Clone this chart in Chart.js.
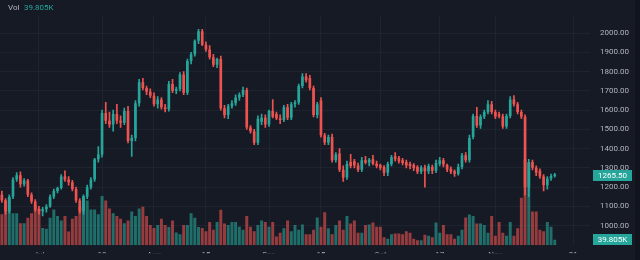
<!DOCTYPE html>
<html><head><meta charset="utf-8">
<script src="https://cdn.jsdelivr.net/npm/chart.js@4.4.1/dist/chart.umd.min.js"></script>
<style>html,body{margin:0;padding:0;background:#161a25;overflow:hidden}#wrap{position:relative;width:640px;height:260px}canvas{display:block}</style>
</head><body><div id="wrap"><canvas id="c" width="640" height="260"></canvas></div>
<script>
const opens = [1160,1130,1075,1150,1240,1262,1215,1235,1160,1125,1085,1075,1085,1100,1150,1180,1195,1255,1240,1225,1190,1130,1075,1150,1200,1240,1345,1370,1585,1545,1525,1580,1545,1535,1596,1440,1455,1635,1745,1715,1695,1675,1630,1655,1615,1605,1735,1700,1710,1785,1690,1855,1890,1960,2010,1940,1915,1875,1835,1865,1610,1575,1620,1635,1665,1680,1705,1510,1490,1430,1540,1560,1525,1595,1580,1558,1548,1615,1560,1630,1640,1725,1775,1765,1715,1575,1650,1470,1432,1460,1340,1375,1290,1250,1330,1335,1312,1290,1340,1328,1345,1322,1315,1305,1275,1320,1360,1350,1340,1330,1320,1315,1305,1280,1302,1282,1305,1285,1320,1340,1315,1295,1282,1270,1305,1365,1340,1460,1570,1520,1565,1590,1630,1590,1578,1568,1515,1570,1655,1630,1590,1565,1200,1330,1300,1285,1255,1210,1245,1258];
const highs = [1180,1140,1160,1250,1275,1280,1245,1240,1170,1135,1100,1095,1110,1160,1190,1200,1265,1285,1255,1235,1200,1140,1160,1210,1250,1350,1410,1600,1640,1590,1600,1630,1570,1610,1620,1470,1650,1760,1765,1725,1710,1690,1670,1665,1630,1750,1760,1720,1795,1800,1865,1900,1965,2020,2020,1955,1935,1890,1870,1880,1625,1630,1650,1680,1690,1720,1715,1520,1500,1570,1580,1575,1600,1655,1590,1575,1625,1630,1640,1650,1735,1790,1790,1780,1725,1640,1665,1480,1470,1475,1380,1400,1310,1335,1370,1345,1325,1355,1360,1350,1365,1335,1320,1312,1330,1365,1380,1360,1350,1340,1330,1322,1312,1310,1315,1320,1315,1340,1355,1350,1320,1305,1290,1320,1375,1380,1470,1580,1615,1575,1600,1650,1645,1600,1590,1580,1580,1670,1675,1640,1600,1575,1345,1340,1310,1295,1265,1255,1268,1272];
const lows = [1120,1060,1065,1140,1230,1200,1205,1150,1115,1075,1060,1050,1070,1095,1140,1170,1190,1230,1210,1180,1120,1065,1060,1140,1190,1230,1330,1355,1530,1510,1490,1530,1510,1525,1430,1360,1440,1620,1705,1680,1665,1620,1610,1605,1590,1595,1690,1685,1700,1680,1680,1840,1880,1945,1935,1905,1865,1825,1820,1600,1560,1555,1610,1625,1650,1670,1500,1480,1420,1420,1525,1510,1515,1560,1550,1530,1540,1550,1550,1615,1630,1715,1745,1705,1565,1560,1460,1420,1420,1330,1330,1280,1230,1240,1300,1300,1280,1280,1320,1310,1315,1300,1290,1260,1260,1310,1335,1325,1315,1300,1295,1285,1270,1270,1200,1270,1270,1275,1310,1305,1280,1270,1255,1262,1295,1330,1330,1450,1510,1505,1555,1580,1580,1555,1560,1505,1505,1560,1620,1580,1555,1160,1150,1290,1260,1245,1180,1190,1235,1252];
const closes = [1130,1075,1150,1240,1262,1215,1235,1160,1125,1085,1075,1085,1100,1150,1180,1195,1255,1240,1225,1190,1130,1075,1150,1200,1240,1345,1370,1585,1545,1525,1580,1545,1535,1596,1440,1455,1635,1745,1715,1695,1675,1630,1655,1615,1605,1735,1700,1710,1785,1690,1855,1890,1960,2010,1940,1915,1875,1835,1865,1610,1575,1620,1635,1665,1680,1705,1510,1490,1430,1555,1560,1525,1595,1565,1558,1548,1615,1560,1630,1640,1725,1775,1755,1715,1575,1630,1470,1432,1460,1340,1370,1290,1250,1320,1310,1312,1290,1340,1328,1342,1322,1310,1300,1275,1320,1355,1345,1335,1325,1312,1310,1298,1280,1302,1282,1310,1285,1325,1340,1318,1292,1280,1270,1305,1365,1340,1455,1570,1520,1565,1590,1630,1590,1565,1568,1515,1570,1655,1630,1590,1565,1200,1330,1300,1275,1255,1210,1245,1258,1265.5];
const volumes = [224,323,343,231,231,158,158,198,231,290,264,125,119,198,257,211,178,211,99,191,211,277,356,323,257,257,224,356,323,264,231,211,191,158,178,244,211,264,277,211,145,125,145,191,145,132,178,92,79,145,145,231,198,132,125,101,167,112,167,
255,156,145,167,167,134,112,211,134,101,145,178,167,134,167,62,90,123,178,101,145,112,150,79,79,112,200,134,237,123,79,145,178,112,211,156,178,90,90,145,150,163,134,134,57,46,79,84,84,79,101,90,46,35,35,75,68,57,163,
90,145,79,79,46,68,112,200,222,211,156,156,145,90,211,68,167,90,68,167,68,123,343,620,590,244,244,112,101,167,134,39.805];
const priceTicks = [1000,1100,1200,1300,1400,1500,1600,1700,1800,1900,2000];
const timeTickIndex = [10,27,41,55,72,86,102,118,133,154];
const timeTickLabels = ['Jul','18','Aug','15','Sep','15','Oct','17','Nov','21'];
const EMPTY_SLOTS = 9;

const UP = '#26a69a', DN = '#ef5350';
const N = closes.length;
const categories = Array.from({length: N + EMPTY_SLOTS}, (_, i) => String(i));
const isUp = i => closes[i] >= opens[i];
const candleColors = closes.map((c, i) => isUp(i) ? UP : DN);
const volColors = closes.map((c, i) => isUp(i) ? 'rgba(38,166,154,0.6)' : 'rgba(239,83,80,0.6)');
const GRID = '#1f2330';
const TXT = '#b2b5be';
const FONT = 'Roboto, "DejaVu Sans", sans-serif';

const overlay = {
  id: 'overlay',
  beforeDraw(chart) {
    const ctx = chart.ctx;
    ctx.save();
    ctx.fillStyle = '#161a25';
    ctx.fillRect(0, 0, chart.width, chart.height);
    ctx.fillStyle = '#11141d';
    ctx.fillRect(635, 0, 5, chart.height);
    ctx.restore();
  },
  afterDraw(chart) {
    const ctx = chart.ctx;
    const y = chart.scales.y, yv = chart.scales.yv;
    ctx.save();
    const last = closes[N - 1];
    const py = y.getPixelForValue(last);
    ctx.fillStyle = UP;
    ctx.fillRect(593, Math.round(py) - 5, 39, 11);
    ctx.fillStyle = '#ffffff';
    ctx.font = '8px ' + FONT;
    ctx.textAlign = 'center';
    ctx.textBaseline = 'middle';
    ctx.fillText(last.toFixed(2), 612.5, Math.round(py) + 0.5);
    const lv = volumes[N - 1];
    const vy = Math.min(yv.getPixelForValue(lv), chart.chartArea.bottom - 6);
    ctx.fillStyle = UP;
    ctx.fillRect(593, Math.round(vy) - 5, 39, 11);
    ctx.fillStyle = '#ffffff';
    ctx.fillText(lv.toFixed(3) + 'K', 612.5, Math.round(vy) + 0.5);
    ctx.textAlign = 'left';
    ctx.font = '8px ' + FONT;
    ctx.fillStyle = TXT;
    ctx.fillText('Vol', 8, 8);
    ctx.fillStyle = UP;
    ctx.fillText(lv.toFixed(3) + 'K', 24, 8);
    ctx.restore();
  }
};

new Chart(document.getElementById('c'), {
  data: {
    labels: categories,
    datasets: [
      { type: 'bar', label: 'Volume', data: volumes, yAxisID: 'yv', backgroundColor: volColors,
        barPercentage: 0.8, categoryPercentage: 1, grouped: false, order: 3 },
      { type: 'bar', label: 'Wick', data: highs.map((h, i) => [lows[i], h]), yAxisID: 'y',
        backgroundColor: candleColors, barThickness: 1, grouped: false, order: 2 },
      { type: 'bar', label: 'Body', data: opens.map((o, i) => [o, closes[i]]), yAxisID: 'y',
        backgroundColor: candleColors, barPercentage: 0.72, categoryPercentage: 1, grouped: false,
        minBarLength: 1, order: 1 }
    ]
  },
  options: {
    responsive: false, animation: false, devicePixelRatio: 1,
    layout: { padding: 0 },
    plugins: { legend: { display: false }, tooltip: { enabled: false } },
    scales: {
      x: {
        type: 'category', offset: true,
        afterBuildTicks: s => { s.ticks = timeTickIndex.map(v => ({ value: v })); },
        afterFit: s => { s.height = 8; },
        ticks: { autoSkip: false, maxRotation: 0, color: TXT, font: { size: 8, family: FONT }, padding: 5,
                 callback: (v, i) => timeTickLabels[i] },
        grid: { offset: false, color: GRID, drawTicks: false },
        border: { display: false }
      },
      y: {
        position: 'right', min: 898.4, max: 2095,
        afterBuildTicks: s => { s.ticks = priceTicks.map(v => ({ value: v })); },
        afterFit: s => { s.width = 50; },
        ticks: { color: TXT, font: { size: 8, family: FONT }, padding: 10, callback: v => Number(v).toFixed(2) },
        grid: { color: GRID, drawTicks: false },
        border: { display: false }
      },
      yv: { display: false, min: 0, max: 1663 }
    }
  },
  plugins: [overlay]
});
</script>
</body></html>
